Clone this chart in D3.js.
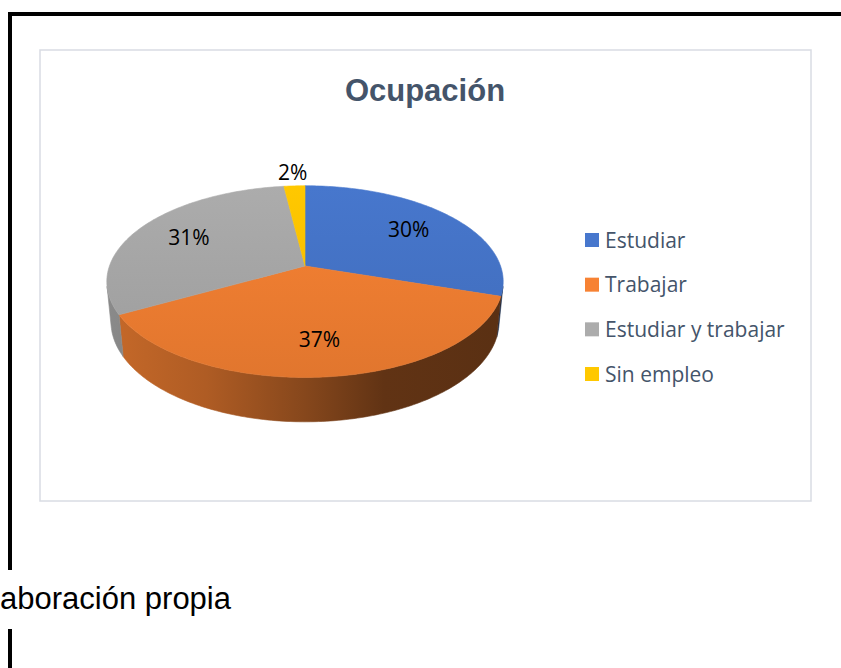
<!DOCTYPE html>
<html>
<head>
<meta charset="utf-8">
<script src="https://cdn.jsdelivr.net/npm/d3@7"></script>
<style>
  body { margin: 0; background: #fff; }
  svg { display: block; }
</style>
</head>
<body>
<div id="chart-container"></div>
<script>
// --- DATA ---
const categories = ["Estudiar", "Trabajar", "Estudiar y trabajar", "Sin empleo"];
const values = [30, 37, 31, 2];
const colors = ["#4472c4", "#ed7d31", "#a5a5a5", "#ffc000"];
const title = "Ocupación";
const sourceNote = "Elaboración propia";

// --- SETUP ---
const width = 841;
const height = 668;

const svg = d3.select("#chart-container")
  .append("svg")
  .attr("width", width)
  .attr("height", height);

svg.append("rect").attr("width", width).attr("height", height).attr("fill", "#fff");

// page frame (black rules of the document around the figure)
svg.append("rect").attr("x", 8).attr("y", 12).attr("width", width - 8).attr("height", 4).attr("fill", "#000");
svg.append("rect").attr("x", 8).attr("y", 12).attr("width", 4).attr("height", 558).attr("fill", "#000");
svg.append("rect").attr("x", 8).attr("y", 629).attr("width", 4).attr("height", 40).attr("fill", "#000");

// chart area border
svg.append("rect")
  .attr("x", 40).attr("y", 50)
  .attr("width", 771).attr("height", 451)
  .attr("fill", "#fff")
  .attr("stroke", "#d9dce3")
  .attr("stroke-width", 1.5);

svg.append("text")
  .attr("x", 425).attr("y", 101)
  .attr("text-anchor", "middle")
  .style("font-family", "'Liberation Sans', Arial, sans-serif")
  .style("font-weight", "bold")
  .style("font-size", "31px")
  .attr("fill", "#44546a")
  .text(title);

svg.append("text")
  .attr("x", 231).attr("y", 609)
  .attr("text-anchor", "end")
  .style("font-family", "'Liberation Sans', Arial, sans-serif")
  .style("font-size", "31px")
  .attr("fill", "#000")
  .text(sourceNote);

// --- 3D PIE (perspective projection) ---
const cx = 305, cy = 266;
const D = 5.4, f = 1056, h = 0.235;
const alpha = 28.5 * Math.PI / 180;
const sa = Math.sin(alpha), ca = Math.cos(alpha);

// theta: 0 at the back (top of screen), clockwise; r: radius; y: height (0 = top face)
function project(theta, r, y) {
  const X = r * Math.sin(theta), Z = r * Math.cos(theta);
  const depth = D + Z * ca - y * sa;
  return [cx + f * X / depth, cy - f * (Z * sa + y * ca) / depth];
}

const pie = d3.pie().sort(null).value(d => d)(values);

const defs = svg.append("defs");

// top-face gradients (lighter at the back)
colors.forEach((c, i) => {
  const g = defs.append("linearGradient")
    .attr("id", "top" + i)
    .attr("gradientUnits", "userSpaceOnUse")
    .attr("x1", 0).attr("x2", 0).attr("y1", 186).attr("y2", 378);
  g.append("stop").attr("offset", 0).attr("stop-color", d3.rgb(c).brighter(0.12));
  g.append("stop").attr("offset", 1).attr("stop-color", d3.rgb(c).darker(0.15));

  // wall gradients (dark toward the right)
  const w = defs.append("linearGradient")
    .attr("id", "wall" + i)
    .attr("gradientUnits", "userSpaceOnUse")
    .attr("x1", 107).attr("x2", 503).attr("y1", 0).attr("y2", 0);
  [[0, 0.5], [0.25, 0.85], [0.5, 1.6], [0.7, 2.5], [1, 2.7]].forEach(([o, k]) => {
    w.append("stop").attr("offset", o).attr("stop-color", d3.rgb(c).darker(k));
  });
});

// visible part of the outer wall
const thetaVis = Math.acos(-1 / (D * ca));
const wallFrom = thetaVis, wallTo = 2 * Math.PI - thetaVis;

const line = d3.line();
const step = Math.PI / 180;

function arcPoints(a0, a1, y) {
  const pts = [];
  const n = Math.max(2, Math.ceil((a1 - a0) / step));
  for (let k = 0; k <= n; k++) pts.push(project(a0 + (a1 - a0) * k / n, 1, y));
  return pts;
}

const wallGroup = svg.append("g");
pie.forEach((d, i) => {
  const a0 = Math.max(d.startAngle, wallFrom);
  const a1 = Math.min(d.endAngle, wallTo);
  if (a1 <= a0) return;
  const top = arcPoints(a0, a1, 0);
  const bottom = arcPoints(a0, a1, -h).reverse();
  wallGroup.append("path")
    .attr("d", line(top.concat(bottom)) + "Z")
    .attr("fill", `url(#wall${i})`)
    .attr("stroke", `url(#wall${i})`)
    .attr("stroke-width", 0.6);
});

const topGroup = svg.append("g");
pie.forEach((d, i) => {
  const pts = [project(0, 0, 0)].concat(arcPoints(d.startAngle, d.endAngle, 0));
  topGroup.append("path")
    .attr("d", line(pts) + "Z")
    .attr("fill", `url(#top${i})`)
    .attr("stroke", `url(#top${i})`)
    .attr("stroke-width", 0.6);
});

// data labels
const total = d3.sum(values);
const labelFont = "'Open Sans', 'Noto Sans', sans-serif";
svg.append("g").selectAll("text")
  .data(pie)
  .join("text")
  .attr("transform", d => {
    const mid = (d.startAngle + d.endAngle) / 2;
    const r = d.value / total < 0.05 ? 1.2 : 0.7;
    const [x, y] = project(mid, r, 0);
    return `translate(${x},${y})`;
  })
  .attr("text-anchor", "middle")
  .attr("dy", "0.35em")
  .style("font-family", labelFont)
  .style("font-size", "21px")
  .attr("fill", "#000")
  .text(d => Math.round(d.value / total * 100) + "%");

// --- LEGEND ---
const legendY = d3.scalePoint().domain(categories).range([240, 374]);
const legend = svg.append("g").selectAll("g")
  .data(categories)
  .join("g")
  .attr("transform", d => `translate(585,${legendY(d)})`);

legend.append("rect")
  .attr("x", 0).attr("y", -7)
  .attr("width", 14).attr("height", 14)
  .attr("fill", (d, i) => `url(#top${i})`);

legend.append("text")
  .attr("x", 20).attr("y", 0)
  .attr("dy", "0.36em")
  .style("font-family", labelFont)
  .style("font-size", "21px")
  .attr("fill", "#44546a")
  .text(d => d);
</script>
</body>
</html>
